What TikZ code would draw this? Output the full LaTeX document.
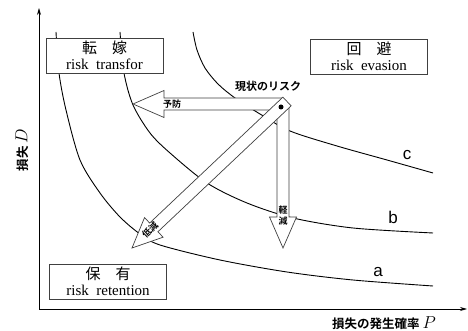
\documentclass[tikz,border=0pt]{standalone}
\usepackage{fontspec}
\setmainfont{Liberation Serif}
\newfontfamily\jp{Noto Sans CJK JP}[BoldFont={Noto Sans CJK JP Bold}]
\newfontfamily\curvefont{Liberation Sans}
\usetikzlibrary{calc,arrows.meta}

\tikzset{
  region/.style={draw=black!75, fill=white, line width=0.8pt,
    minimum width=117pt, minimum height=35pt, inner sep=1pt,
    align=center, font=\fontsize{15}{16}\selectfont},
  curve/.style={line width=0.9pt},
  curvelabel/.style={font=\curvefont\fontsize{17}{17}\selectfont},
  axis/.style={line width=0.8pt, -{Stealth[length=7pt,width=4pt]}},
  axislabel/.style={font=\jp\bfseries\fontsize{12.5}{13}\selectfont},
  blockarrow/.style={draw=black!75, fill=white, line width=0.7pt},
  arrowtext/.style={font=\jp\bfseries\fontsize{9}{11}\selectfont, inner sep=0pt},
}

% block arrow: [head length] start, tip
\newcommand{\blockarrow}[3][31pt]{%
  \coordinate (#3-base) at ($(#3)!#1!(#2)$);
  \draw[blockarrow] ($(#2)!6pt!90:(#3)$) -- ($(#3-base)!6pt!90:(#3)$)
    -- ($(#3-base)!13.5pt!90:(#3)$) -- (#3)
    -- ($(#3-base)!13.5pt!-90:(#3)$) -- ($(#3-base)!6pt!-90:(#3)$)
    -- ($(#2)!6pt!-90:(#3)$) -- cycle;}

\begin{document}
\begin{tikzpicture}[x=1pt,y=1pt]
\useasboundingbox (0,0) rectangle (468,331);

% axes
\coordinate (O) at (39,22);
\coordinate (Dend) at (39,323);
\coordinate (Pend) at (467,22);
\draw[axis] (O) -- (Dend);
\draw[axis] (O) -- (Pend);
\node[axislabel] (plabel) at (384,8)
{損失の発生確率 {\fontsize{16}{16}\selectfont$P$}};
\node[axislabel, rotate=90] (dlabel) at (22,181)
{損失 {\fontsize{16}{16}\selectfont$D$}};

% iso-risk curves
\draw[curve] plot[smooth] coordinates {(56,299) (59,258) (66,221) (80,171)
  (100,138) (120,114) (140,97) (160,86) (220,71) (287,59) (353,51) (433,45)};
\draw[curve] plot[smooth] coordinates {(120,299) (124,258) (133,226) (150,198)
  (170,178) (207,148) (247,128) (293,113) (353,103) (433,98)};
\draw[curve] plot[smooth] coordinates {(193,299) (197,281) (205,263) (218,247)
  (235,233) (260,217) (290,200) (337,185) (387,171) (433,158)};
\node[curvelabel] (la) at (378,59) {a};
\node[curvelabel] (lb) at (393,114) {b};
\node[curvelabel] (lc) at (407,176) {c};

% regions
\node[region] (transfer) at (104.5,275.5) {{\jp 転　嫁}\\risk~ transfor};
\node[region] (evasion) at (369,274.5) {{\jp 回　避}\\risk~ evasion};
\node[region] (retention) at (108,49.5) {{\jp 保　有}\\risk~ retention};

% measures
\coordinate (now) at (283,227);
\coordinate (prevent) at (133,227);
\coordinate (mitigate) at (283,83);
\coordinate (cap) at (287,229.5);
\coordinate (reduce) at (132,83);
\blockarrow{now}{prevent}
\blockarrow{now}{mitigate}
\blockarrow[30pt]{cap}{reduce}
\node[fill, circle, inner sep=0pt, minimum size=5pt] (dot) at (281,224) {};
\node[font=\jp\bfseries\fontsize{11}{12}\selectfont] (nowlabel) at (268,245)
{現状のリスク};
\node[arrowtext] (lprevent) at (172,227) {予防};
\node[arrowtext, align=center] (lmitigate) at (283,115) {軽\\減};
\node[arrowtext, rotate=43.4] (lreduce) at (150,101) {低減};
\end{tikzpicture}
\end{document}
